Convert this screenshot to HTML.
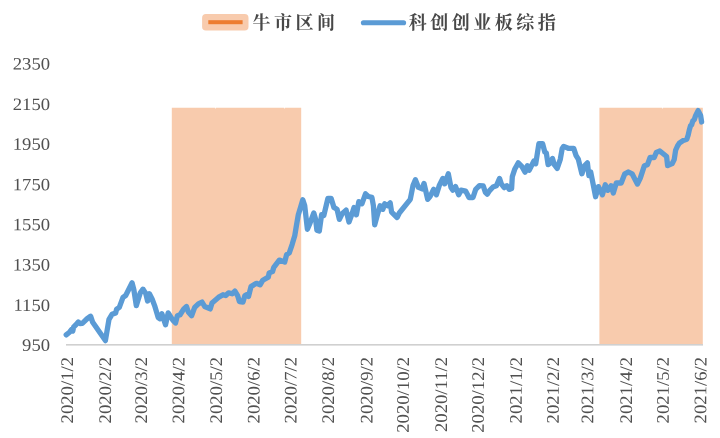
<!DOCTYPE html>
<html lang="zh"><head><meta charset="utf-8"><title>科创创业板综指 牛市区间</title>
<style>html,body{margin:0;padding:0;background:#fff;width:720px;height:438px;overflow:hidden;font-family:"Liberation Serif",serif}svg{display:block;will-change:transform;transform:translateZ(0)}</style></head>
<body>
<svg width="720" height="438" viewBox="0 0 720 438">
<rect width="720" height="438" fill="#ffffff"/>
<path fill="#F8CBAD" d="M171.8 107.7H215.2V108.5H216V107.7H284V108.5H284.8V107.7H301.2V345H171.8Z"/>
<path fill="#F8CBAD" d="M599.4 107.7H662.2V108.5H663V107.7H702.8V345H599.4Z"/>
<rect x="66" y="344.0" width="637" height="1.6" fill="#D0D0D0"/>
<path d="M66.2 334.9 L69.5 332.2 L71.5 329.6 L72.8 331.0 L73.6 327.2 L75.5 325.2 L78.3 322.0 L80.0 323.5 L82.3 323.3 L86.8 319.0 L90.6 316.2 L92.7 322.3 L105.4 340.6 L109.0 319.3 L112.0 314.3 L115.7 312.9 L116.6 309.2 L119.3 307.4 L123.0 297.4 L125.7 295.5 L132.1 282.8 L133.9 290.0 L136.3 305.6 L140.3 292.8 L143.0 289.2 L145.8 293.7 L147.6 301.0 L149.4 293.7 L152.2 299.2 L154.6 305.6 L158.2 317.5 L160.0 318.8 L161.9 313.8 L165.5 324.8 L168.2 312.9 L172.8 320.2 L175.5 323.0 L177.4 315.7 L180.1 314.7 L183.8 308.9 L186.5 306.5 L188.3 312.0 L191.6 315.7 L194.7 307.4 L198.4 303.8 L202.0 302.0 L204.7 306.5 L210.2 308.9 L212.0 302.9 L218.4 297.4 L223.0 294.7 L225.7 295.6 L228.5 292.8 L232.1 293.8 L234.9 291.0 L237.6 295.6 L239.4 301.6 L243.0 302.0 L244.9 295.6 L246.7 294.7 L248.5 296.5 L251.0 286.6 L256.4 283.3 L260.1 284.8 L262.8 280.2 L268.3 277.1 L269.2 272.9 L272.5 271.6 L273.8 267.4 L279.3 260.1 L284.7 262.0 L286.6 254.7 L289.3 252.8 L292.1 244.6 L294.8 235.5 L296.4 225.7 L298.3 214.7 L300.5 207.4 L302.8 199.7 L304.7 205.6 L307.4 229.3 L310.1 222.9 L313.8 212.9 L315.6 219.3 L316.9 230.2 L319.3 231.1 L321.6 214.7 L323.8 215.6 L327.9 198.3 L331.1 198.3 L333.9 207.4 L337.0 209.2 L339.4 219.3 L342.1 213.8 L346.1 210.1 L349.0 222.0 L352.1 213.5 L354.0 207.5 L356.4 214.8 L358.8 201.6 L361.9 203.8 L365.5 193.8 L368.3 196.5 L371.9 197.4 L373.4 205.7 L374.7 224.8 L377.4 214.8 L380.1 205.7 L382.9 209.3 L384.7 203.8 L387.4 205.7 L390.2 202.9 L391.6 212.1 L397.1 217.5 L399.3 213.0 L410.3 199.3 L413.0 185.6 L415.4 179.7 L418.5 187.4 L422.1 188.9 L424.0 183.4 L426.2 192.9 L427.7 199.4 L430.0 196.6 L433.7 189.3 L436.4 194.8 L439.2 185.7 L442.8 178.4 L444.7 183.8 L448.3 173.8 L451.0 187.5 L452.9 190.2 L455.6 186.6 L458.7 194.8 L461.1 190.2 L465.7 191.1 L469.0 197.5 L473.0 197.5 L475.7 189.3 L479.4 185.7 L483.3 186.0 L485.4 192.4 L487.2 194.2 L489.6 190.6 L493.0 187.0 L496.4 185.8 L499.5 178.4 L501.3 183.9 L504.2 187.6 L506.8 185.8 L509.2 189.4 L511.6 188.5 L512.3 176.6 L514.7 169.3 L518.3 162.9 L522.0 166.6 L525.1 172.1 L527.4 165.7 L529.3 170.2 L533.8 161.1 L535.7 163.8 L538.9 143.7 L542.6 143.7 L544.8 152.0 L546.3 152.9 L548.1 164.7 L550.3 162.9 L552.5 158.4 L554.3 164.7 L557.2 168.4 L560.3 159.3 L562.2 148.5 L563.7 146.4 L568.2 148.3 L573.7 148.3 L576.1 155.6 L578.3 159.2 L581.9 173.8 L584.7 165.6 L587.4 162.9 L588.9 175.7 L590.7 172.0 L592.9 183.0 L595.6 196.7 L598.4 186.6 L602.4 194.8 L605.3 184.8 L607.9 190.3 L611.1 185.7 L613.3 193.0 L616.3 183.0 L621.2 183.0 L624.8 173.8 L628.5 172.0 L632.1 173.8 L637.4 184.1 L640.3 178.1 L644.4 165.7 L647.5 164.7 L650.1 157.5 L654.2 157.5 L656.3 152.4 L659.8 151.0 L666.6 156.5 L667.6 165.7 L672.1 163.7 L674.2 159.6 L675.6 150.3 L677.5 146.0 L679.5 142.9 L683.2 140.6 L686.8 139.3 L688.2 135.0 L689.3 130.0 L690.6 125.6 L691.6 124.9 L692.8 121.0 L694.3 119.6 L695.6 115.6 L698.1 110.6 L700.6 115.5 L701.6 122.0" fill="none" stroke="#5B9BD5" stroke-width="5.3" stroke-linejoin="round" stroke-linecap="round"/>
<rect x="202.1" y="14.1" width="46.4" height="16.5" rx="3.8" fill="#F8CBAD"/>
<rect x="208.3" y="20.2" width="34.3" height="4" fill="#ED7D31"/>
<line x1="363.4" y1="22.7" x2="403.6" y2="22.7" stroke="#5B9BD5" stroke-width="5.1" stroke-linecap="round"/>
<g font-family="'Liberation Serif', 'Noto Serif CJK SC', serif" font-size="18" font-weight="bold" fill="#484848" letter-spacing="3.5">
<text x="252.5" y="28.8">牛市区间</text>
<text x="408.8" y="28.8">科创创业板综指</text>
</g>
<g font-family="'Liberation Serif', serif" font-size="17.4" fill="#505050" text-anchor="end">
<text transform="translate(50.05 69.5) rotate(0.04) scale(1.073 1)">2350</text>
<text transform="translate(50.05 110.1) rotate(0.04) scale(1.073 1)">2150</text>
<text transform="translate(50.05 149.7) rotate(0.04) scale(1.073 1)">1950</text>
<text transform="translate(50.05 190.2) rotate(0.04) scale(1.073 1)">1750</text>
<text transform="translate(50.05 230.2) rotate(0.04) scale(1.073 1)">1550</text>
<text transform="translate(50.05 270.6) rotate(0.04) scale(1.073 1)">1350</text>
<text transform="translate(50.05 310.9) rotate(0.04) scale(1.073 1)">1150</text>
<text transform="translate(50.05 350.8) rotate(0.04) scale(1.073 1)">950</text>
</g>
<g font-family="'Liberation Serif', serif" font-size="17.7" fill="#505050" text-anchor="end">
<text transform="translate(73.0 357.0) rotate(-89.96) scale(1.055 1)">2020/1/2</text>
<text transform="translate(111.0 357.0) rotate(-89.96) scale(1.055 1)">2020/2/2</text>
<text transform="translate(147.0 357.0) rotate(-89.96) scale(1.055 1)">2020/3/2</text>
<text transform="translate(184.4 357.0) rotate(-89.96) scale(1.055 1)">2020/4/2</text>
<text transform="translate(222.0 357.0) rotate(-89.96) scale(1.055 1)">2020/5/2</text>
<text transform="translate(259.5 357.0) rotate(-89.96) scale(1.055 1)">2020/6/2</text>
<text transform="translate(296.6 357.0) rotate(-89.96) scale(1.055 1)">2020/7/2</text>
<text transform="translate(334.1 357.0) rotate(-89.96) scale(1.055 1)">2020/8/2</text>
<text transform="translate(372.5 357.0) rotate(-89.96) scale(1.055 1)">2020/9/2</text>
<text transform="translate(408.9 357.0) rotate(-89.96) scale(1.055 1)">2020/10/2</text>
<text transform="translate(447.0 357.0) rotate(-89.96) scale(1.055 1)">2020/11/2</text>
<text transform="translate(483.9 357.0) rotate(-89.96) scale(1.055 1)">2020/12/2</text>
<text transform="translate(521.9 357.0) rotate(-89.96) scale(1.055 1)">2021/1/2</text>
<text transform="translate(558.9 357.0) rotate(-89.96) scale(1.055 1)">2021/2/2</text>
<text transform="translate(593.2 357.0) rotate(-89.96) scale(1.055 1)">2021/3/2</text>
<text transform="translate(632.0 357.0) rotate(-89.96) scale(1.055 1)">2021/4/2</text>
<text transform="translate(668.8 357.0) rotate(-89.96) scale(1.055 1)">2021/5/2</text>
<text transform="translate(706.4 357.0) rotate(-89.96) scale(1.055 1)">2021/6/2</text>
</g>
</svg>
</body></html>
